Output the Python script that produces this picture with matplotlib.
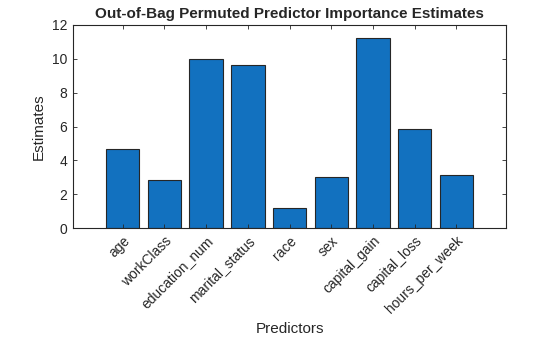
import matplotlib
matplotlib.use('Agg')
import matplotlib.pyplot as plt

# Dados
predictors = ['age', 'workClass', 'education_num', 'marital_status', 'race',
              'sex', 'capital_gain', 'capital_loss', 'hours_per_week']
estimates = [4.68, 2.84, 10.0, 9.65, 1.19, 3.03, 11.24, 5.88, 3.15]

plt.rcParams['font.family'] = ['Liberation Sans', 'DejaVu Sans']
cor_eixo = '#262626'

fig = plt.figure(figsize=(5.6, 3.37), dpi=100)
ax = fig.add_axes([0.130, 0.323, 0.774, 0.603])

pos = list(range(1, len(predictors) + 1))
ax.bar(pos, estimates, width=0.8, color='#1271bf', edgecolor=cor_eixo, linewidth=0.8)

ax.set_xlim(-0.2, 10.2)
ax.set_ylim(0, 12)
ax.set_yticks([0, 2, 4, 6, 8, 10, 12])
ax.set_xticks(pos)
ax.set_xticklabels(predictors, rotation=45, ha='right', rotation_mode='anchor')

ax.tick_params(direction='in', top=True, right=True, length=3, width=0.6,
               colors=cor_eixo, labelsize=10, pad=4)
for s in ax.spines.values():
    s.set_color(cor_eixo)
    s.set_linewidth(0.8)

ax.set_title('Out-of-Bag Permuted Predictor Importance Estimates',
             fontsize=11, fontweight='bold', color=cor_eixo, pad=5)
ax.set_xlabel('Predictors', fontsize=11, color=cor_eixo)
ax.set_ylabel('Estimates', fontsize=11, color=cor_eixo)

fig.savefig('out.png', dpi=100)
